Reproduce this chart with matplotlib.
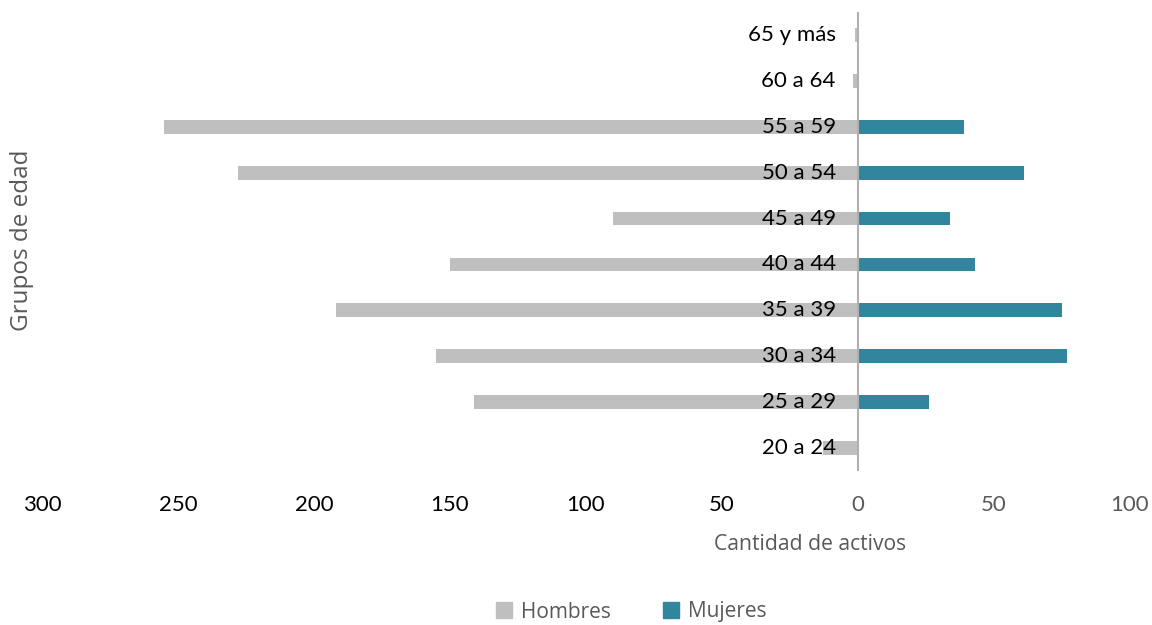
import matplotlib
matplotlib.use("Agg")
import matplotlib.pyplot as plt
from matplotlib.patches import Patch

plt.rcParams['font.family'] = ['Lato', 'DejaVu Sans']

groups = ["20 a 24", "25 a 29", "30 a 34", "35 a 39", "40 a 44",
          "45 a 49", "50 a 54", "55 a 59", "60 a 64", "65 y más"]
hombres = [13, 141, 155, 192, 150, 90, 228, 255, 2, 1]
mujeres = [0, 26, 77, 75, 43, 34, 61, 39, 0, 0]
xticks = [-300, -250, -200, -150, -100, -50, 0, 50, 100]

gray = "#BFBFBF"
teal = "#31859C"
sans2 = ['Open Sans', 'DejaVu Sans']

fig = plt.figure(figsize=(11.52, 6.25), dpi=100)
ax = fig.add_axes([42/1152, 1-471/625, (1130-42)/1152, (471-12)/625])

y = list(range(len(groups)))
ax.barh(y, [-h for h in hombres], height=0.3, color=gray, zorder=2)
ax.barh(y, mujeres, height=0.3, color=teal, zorder=2)
ax.axvline(0, color="#B0B0B0", lw=1.5, zorder=3)

for i, g in zip(y, groups):
    ax.annotate(g, xy=(0, i), xytext=(-16, 0), textcoords="offset points",
                ha="right", va="center", fontsize=16, color="black", zorder=4)

ax.set_xlim(-300, 100)
ax.set_ylim(-0.5, 9.5)
ax.set_xticks(xticks)
ax.set_xticklabels([str(abs(t)) for t in xticks], fontsize=16)
for t, lab in zip(xticks, ax.get_xticklabels()):
    lab.set_color("black" if t < 0 else "#595959")
ax.tick_params(axis="x", length=0, pad=17)
ax.set_yticks([])
for s in ax.spines.values():
    s.set_visible(False)

fig.text(810/1152, 1-545/625, "Cantidad de activos", ha="center", va="center",
         fontsize=15.2, color="#595959", family=sans2)
fig.text(22/1152, 1-240/625, "Grupos de edad", ha="center", va="center",
         rotation=90, fontsize=17.5, color="#595959", family=sans2)

handles = [Patch(color=gray, label="Hombres"), Patch(color=teal, label="Mujeres")]
fig.legend(handles=handles, loc="center", bbox_to_anchor=(631/1152, 1-612/625),
           ncol=2, frameon=False, handlelength=0.8, handleheight=0.8,
           columnspacing=2.5, handletextpad=0.4, labelcolor="#595959",
           prop={'family': sans2, 'size': 15})

fig.savefig("out.png", dpi=100)
